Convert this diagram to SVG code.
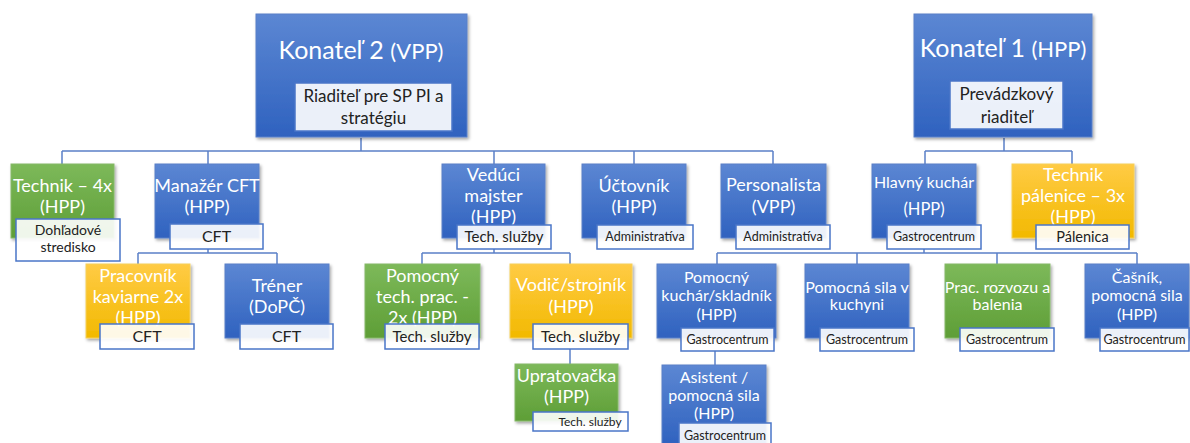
<svg xmlns="http://www.w3.org/2000/svg" width="1190" height="443" viewBox="0 0 1190 443">
<defs>
<linearGradient id="gb" x1="0" y1="0" x2="0" y2="1"><stop offset="0" stop-color="#5c87d3"/><stop offset="1" stop-color="#2f62bf"/></linearGradient>
<linearGradient id="gg" x1="0" y1="0" x2="0" y2="1"><stop offset="0" stop-color="#7db95a"/><stop offset="1" stop-color="#5e9e36"/></linearGradient>
<linearGradient id="gy" x1="0" y1="0" x2="0" y2="1"><stop offset="0" stop-color="#ffcb45"/><stop offset="1" stop-color="#f2b900"/></linearGradient>
<filter id="sh" x="-10%" y="-10%" width="130%" height="130%"><feDropShadow dx="1.5" dy="2" stdDeviation="1.8" flood-color="#000" flood-opacity="0.35"/></filter>
</defs>
<style>
.b{fill:url(#gb);stroke:#5b80c8;stroke-width:1;filter:url(#sh)}
.g{fill:url(#gg);stroke:#86b868;stroke-width:1;filter:url(#sh)}
.y{fill:url(#gy);stroke:#f6cf5a;stroke-width:1;filter:url(#sh)}
.l{fill:#fff;fill-opacity:0.9;stroke:#4a76c8;stroke-width:1.5}
.t{font-family:Lato,"Liberation Sans",sans-serif;fill:#fff;text-anchor:middle}
.lt{font-family:Lato,"Liberation Sans",sans-serif;fill:#222;text-anchor:middle}
.c{fill:none;stroke:#5b80c8;stroke-width:1.5}
</style>
<g id="connectors" class="c">
<path d="M361 138V151M62 151H773M62 151V164M208 151V164M494 151V164M634 151V164M773 151V164"/>
<path d="M1004 138V151M925 151H1072M925 151V164M1072 151V164"/>
<path d="M208 249V253M138 253H277M138 253V264M277 253V264"/>
<path d="M494 249V253M422 253H570M422 253V264M570 253V264"/>
<path d="M924 249V253M717 253H1137M717 253V264M857 253V264M997 253V264M1137 253V264"/>
<path d="M570 349V364"/>
<path d="M715 351V365"/>
</g>
<g id="konatel2">
<rect class="b" x="256" y="14" width="211" height="123"/>
<text class="t" x="361" y="59" font-size="25">Konateľ 2 <tspan font-size="22">(VPP)</tspan></text>
<rect class="l" x="295" y="83" width="157" height="48"/>
<text class="lt" x="373.5" y="102" font-size="17">Riaditeľ pre SP PI a</text>
<text class="lt" x="373.5" y="124" font-size="17">stratégiu</text>
</g>
<g id="konatel1">
<rect class="b" x="914" y="14" width="178" height="123"/>
<text class="t" x="1003" y="57" font-size="25">Konateľ 1 <tspan font-size="22">(HPP)</tspan></text>
<rect class="l" x="950" y="81" width="113" height="48"/>
<text class="lt" x="1006.5" y="100" font-size="17">Prevádzkový</text>
<text class="lt" x="1006.5" y="123" font-size="17">riaditeľ</text>
</g>
<g id="technik">
<rect class="g" x="11" y="164" width="103" height="74"/>
<text class="t" x="62.5" y="192" font-size="18">Technik – 4x</text>
<text class="t" x="62.5" y="213" font-size="18">(HPP)</text>
<rect class="l" x="16" y="219" width="104" height="42"/>
<text class="lt" x="68" y="235" font-size="14">Dohľadové</text>
<text class="lt" x="68" y="252" font-size="14">stredisko</text>
</g>
<g id="manazer">
<rect class="b" x="155" y="164" width="104" height="74"/>
<text class="t" x="207" y="192" font-size="18">Manažér CFT</text>
<text class="t" x="207" y="213" font-size="18">(HPP)</text>
<rect class="l" x="170" y="224" width="93" height="25"/>
<text class="lt" x="216.5" y="242" font-size="16">CFT</text>
</g>
<g id="veduci">
<rect class="b" x="442" y="164" width="103" height="74"/>
<text class="t" x="493.5" y="181" font-size="18">Vedúci</text>
<text class="t" x="493.5" y="202" font-size="18">majster</text>
<text class="t" x="493.5" y="223" font-size="18">(HPP)</text>
<rect class="l" x="457" y="225" width="94" height="24"/>
<text class="lt" x="504" y="242" font-size="15">Tech. služby</text>
</g>
<g id="uctovnik">
<rect class="b" x="582" y="164" width="104" height="74"/>
<text class="t" x="634" y="192" font-size="18">Účtovník</text>
<text class="t" x="634" y="213" font-size="18">(HPP)</text>
<rect class="l" x="597" y="225" width="96" height="24"/>
<text class="lt" x="645" y="241" font-size="12.5">Administratíva</text>
</g>
<g id="personalista">
<rect class="b" x="721" y="164" width="105" height="74"/>
<text class="t" x="773.5" y="191" font-size="18">Personalista</text>
<text class="t" x="773.5" y="213" font-size="18">(VPP)</text>
<rect class="l" x="736" y="225" width="94" height="24"/>
<text class="lt" x="783" y="241" font-size="12.5">Administratíva</text>
</g>
<g id="hlavny-kuchar">
<rect class="b" x="872" y="164" width="104" height="74"/>
<text class="t" x="924" y="188" font-size="16">Hlavný kuchár</text>
<text class="t" x="924" y="215" font-size="16.5">(HPP)</text>
<rect class="l" x="887" y="225" width="94" height="24"/>
<text class="lt" x="934" y="241" font-size="12.5">Gastrocentrum</text>
</g>
<g id="technik-palenice">
<rect class="y" x="1012" y="164" width="122" height="74"/>
<text class="t" x="1073" y="181" font-size="18">Technik</text>
<text class="t" x="1073" y="202" font-size="18">pálenice – 3x</text>
<text class="t" x="1073" y="223" font-size="18">(HPP)</text>
<rect class="l" x="1036" y="225" width="93" height="24"/>
<text class="lt" x="1082.5" y="242" font-size="14.5">Pálenica</text>
</g>
<g id="pracovnik-kaviarne">
<rect class="y" x="86" y="264" width="104" height="74"/>
<text class="t" x="138" y="282" font-size="18">Pracovník</text>
<text class="t" x="138" y="303" font-size="18">kaviarne 2x</text>
<text class="t" x="138" y="324" font-size="18">(HPP)</text>
<rect class="l" x="100" y="324" width="94" height="25"/>
<text class="lt" x="147" y="342" font-size="16">CFT</text>
</g>
<g id="trener">
<rect class="b" x="225" y="264" width="104" height="74"/>
<text class="t" x="277" y="292" font-size="18">Tréner</text>
<text class="t" x="277" y="313" font-size="18">(DoPČ)</text>
<rect class="l" x="240" y="324" width="93" height="25"/>
<text class="lt" x="286.5" y="342" font-size="16">CFT</text>
</g>
<g id="pomocny-tech">
<rect class="g" x="365" y="264" width="115" height="74"/>
<text class="t" x="422.5" y="282" font-size="18">Pomocný</text>
<text class="t" x="422.5" y="303" font-size="18">tech. prac. -</text>
<text class="t" x="422.5" y="324" font-size="18">2x (HPP)</text>
<rect class="l" x="385" y="324" width="94" height="25"/>
<text class="lt" x="432" y="342" font-size="15">Tech. služby</text>
</g>
<g id="vodic">
<rect class="y" x="510" y="264" width="122" height="74"/>
<text class="t" x="571" y="291" font-size="18">Vodič/strojník</text>
<text class="t" x="571" y="313" font-size="18">(HPP)</text>
<rect class="l" x="533" y="324" width="95" height="25"/>
<text class="lt" x="580.5" y="342" font-size="15">Tech. služby</text>
</g>
<g id="upratovacka">
<rect class="g" x="515" y="364" width="103" height="57"/>
<text class="t" x="566.5" y="382" font-size="18">Upratovačka</text>
<text class="t" x="566.5" y="403" font-size="18">(HPP)</text>
<rect class="l" x="533" y="412" width="95" height="19"/>
<text class="lt" x="590" y="426" font-size="12">Tech. služby</text>
</g>
<g id="pomocny-kuchar">
<rect class="b" x="657" y="264" width="119" height="74"/>
<text class="t" x="716.5" y="283" font-size="16">Pomocný</text>
<text class="t" x="716.5" y="301" font-size="16">kuchár/skladník</text>
<text class="t" x="716.5" y="320" font-size="16">(HPP)</text>
<rect class="l" x="681" y="328" width="93" height="23"/>
<text class="lt" x="727.5" y="344" font-size="12.5">Gastrocentrum</text>
</g>
<g id="pomocna-sila">
<rect class="b" x="805" y="264" width="104" height="74"/>
<text class="t" x="857" y="293" font-size="16">Pomocná sila v</text>
<text class="t" x="857" y="310" font-size="16">kuchyni</text>
<rect class="l" x="820" y="328" width="94" height="23"/>
<text class="lt" x="867" y="344" font-size="12.5">Gastrocentrum</text>
</g>
<g id="prac-rozvozu">
<rect class="g" x="945" y="264" width="105" height="74"/>
<text class="t" x="997.5" y="293" font-size="16">Prac. rozvozu a</text>
<text class="t" x="997.5" y="310" font-size="16">balenia</text>
<rect class="l" x="960" y="328" width="94" height="23"/>
<text class="lt" x="1007" y="344" font-size="12.5">Gastrocentrum</text>
</g>
<g id="casnik">
<rect class="b" x="1085" y="264" width="104" height="74"/>
<text class="t" x="1137" y="283" font-size="16">Čašník,</text>
<text class="t" x="1137" y="301" font-size="16">pomocná sila</text>
<text class="t" x="1137" y="320" font-size="16">(HPP)</text>
<rect class="l" x="1100" y="328" width="89" height="23"/>
<text class="lt" x="1144.5" y="344" font-size="12.5">Gastrocentrum</text>
</g>
<g id="asistent">
<rect class="b" x="662" y="365" width="104" height="80"/>
<text class="t" x="714" y="383" font-size="16">Asistent /</text>
<text class="t" x="714" y="401" font-size="16">pomocná sila</text>
<text class="t" x="714" y="419" font-size="16">(HPP)</text>
<rect class="l" x="679" y="423" width="92" height="22"/>
<text class="lt" x="725" y="440" font-size="12.5">Gastrocentrum</text>
</g>
</svg>
